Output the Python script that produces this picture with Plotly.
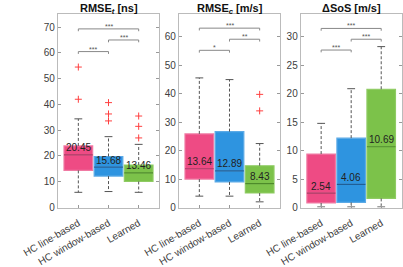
import plotly.graph_objects as go

methods = ["HC line-based", "HC window-based", "Learned"]
fill_colors = ["#EE4B84", "#2E94E0", "#7CC24A"]
edge_colors = ["#F07AA3", "#5CAAE6", "#8FCB63"]
median_colors = ["#A8345F", "#1F5E96", "#4D8A2A"]

titles = ["<b>RMSE<sub><i>t</i></sub> [ns]</b>", "<b>RMSE<sub><i>c</i></sub> [m/s]</b>", "<b>ΔSoS [m/s]</b>"]

# per panel: lists over methods
q1 = [[14.4, 12.2, 10.1], [10.0, 9.0, 5.1], [0.8, 0.9, 1.6]]
median = [[20.45, 15.68, 13.46], [13.64, 12.89, 8.43], [2.54, 4.06, 10.69]]
q3 = [[23.9, 19.8, 16.5], [25.9, 26.7, 14.7], [9.4, 12.2, 20.8]]
lower = [[5.9, 6.2, 5.9], [4.0, 4.0, 2.0], [0.1, 0.1, 0.1]]
upper = [[34.4, 27.5, 24.5], [45.6, 45.0, 22.5], [14.8, 20.9, 28.3]]
outliers = [
    [[54.5, 42.0], [40.7, 36.3, 33.6], [35.5, 31.5, 27.0]],
    [[], [], [39.8, 34.0]],
    [[], [], []],
]
median_labels = [["20.45", "15.68", "13.46"], ["13.64", "12.89", "8.43"], ["2.54", "4.06", "10.69"]]

# significance brackets: (i, j, height, label)
sig_pairs = [(1, 2), (2, 3), (1, 3)]
sig_heights = [[60.5, 65.0, 69.3], [55.3, 59.2, 63.1], [27.7, 29.6, 31.5]]
sig_labels = [["***", "***", "***"], ["*", "**", "***"], ["***", "***", "***"]]

y_ranges = [[0, 75], [0, 68], [0, 34]]
y_ticks = [list(range(0, 71, 10)), list(range(0, 61, 10)), list(range(0, 31, 5))]

x_domains = [[25 / 403, 136 / 403], [157.5 / 403, 268.5 / 403], [291 / 403, 401.5 / 403]]
y_domain = [(267 - 219) / 267, (267 - 15) / 267]

BOXW = 0.95
CAPW = 0.13

fig = go.Figure()
annotations = []

for p in range(3):
    xa = "x" if p == 0 else f"x{p+1}"
    ya = "y" if p == 0 else f"y{p+1}"
    drop = (y_ranges[p][1] - y_ranges[p][0]) * 0.012
    for m in range(3):
        pos = m + 1
        # whiskers (dashed)
        fig.add_trace(go.Scatter(x=[pos, pos, None, pos, pos],
                                 y=[q3[p][m], upper[p][m], None, q1[p][m], lower[p][m]],
                                 mode="lines", line=dict(color="#555555", width=1, dash="3px,2px"),
                                 xaxis=xa, yaxis=ya, showlegend=False, hoverinfo="skip"))
        # caps
        fig.add_trace(go.Scatter(x=[pos - CAPW, pos + CAPW, None, pos - CAPW, pos + CAPW],
                                 y=[upper[p][m], upper[p][m], None, lower[p][m], lower[p][m]],
                                 mode="lines", line=dict(color="#555555", width=1),
                                 xaxis=xa, yaxis=ya, showlegend=False, hoverinfo="skip"))
        # box
        fig.add_trace(go.Box(x=[pos], q1=[q1[p][m]], median=[median[p][m]], q3=[q3[p][m]],
                             lowerfence=[q1[p][m]], upperfence=[q3[p][m]],
                             width=BOXW, fillcolor=fill_colors[m],
                             line=dict(color=edge_colors[m], width=1.2),
                             xaxis=xa, yaxis=ya, showlegend=False, hoverinfo="skip",
                             boxpoints=False))
        # median line
        fig.add_trace(go.Scatter(x=[pos - BOXW / 2, pos + BOXW / 2],
                                 y=[median[p][m], median[p][m]],
                                 mode="lines", line=dict(color=median_colors[m], width=1.2),
                                 xaxis=xa, yaxis=ya, showlegend=False, hoverinfo="skip"))
        # outliers
        if outliers[p][m]:
            fig.add_trace(go.Scatter(x=[pos] * len(outliers[p][m]), y=outliers[p][m],
                                     mode="markers",
                                     marker=dict(symbol="cross-thin", size=5,
                                                 line=dict(color="#FF4040", width=1)),
                                     xaxis=xa, yaxis=ya, showlegend=False, hoverinfo="skip"))
        annotations.append(dict(x=pos, y=median[p][m], xref=xa, yref=ya,
                                text=median_labels[p][m], showarrow=False,
                                yanchor="middle", yshift=7,
                                font=dict(size=10, color="#222222",
                                          family="Liberation Sans, Arial, sans-serif")))
    # brackets
    for k, (i, j) in enumerate(sig_pairs):
        h = sig_heights[p][k]
        fig.add_trace(go.Scatter(x=[i, i, j, j], y=[h - drop, h, h, h - drop],
                                 mode="lines", line=dict(color="#888888", width=1),
                                 xaxis=xa, yaxis=ya, showlegend=False, hoverinfo="skip"))
        annotations.append(dict(x=(i + j) / 2, y=h, xref=xa, yref=ya,
                                text=sig_labels[p][k], showarrow=False,
                                yanchor="bottom", yshift=-3,
                                font=dict(size=7, color="#555555",
                                          family="Liberation Sans, Arial, sans-serif")))
    # title
    annotations.append(dict(x=(x_domains[p][0] + x_domains[p][1]) / 2, y=1.0,
                            xref="paper", yref="paper", text=titles[p], showarrow=False,
                            xanchor="center", yanchor="top",
                            font=dict(size=11, color="#111111",
                                      family="Liberation Sans, Arial, sans-serif")))

axis_font = dict(size=10, color="#404040", family="Liberation Sans, Arial, sans-serif")
layout = dict(
    width=403, height=267,
    margin=dict(l=0, r=0, t=0, b=0),
    paper_bgcolor="white", plot_bgcolor="white",
    annotations=annotations,
)
for p in range(3):
    xk = "xaxis" if p == 0 else f"xaxis{p+1}"
    yk = "yaxis" if p == 0 else f"yaxis{p+1}"
    ya = "y" if p == 0 else f"y{p+1}"
    xa = "x" if p == 0 else f"x{p+1}"
    layout[xk] = dict(domain=x_domains[p], anchor=ya, range=[0.32, 3.68],
                      tickvals=[1, 2, 3], ticktext=methods, tickangle=-30,
                      ticklabelstandoff=5,
                      showline=True, mirror=True, linecolor="#BBBBBB", linewidth=1,
                      ticks="inside", ticklen=3, tickcolor="#999999",
                      showgrid=False, zeroline=False, tickfont=axis_font)
    layout[yk] = dict(domain=y_domain, anchor=xa, range=y_ranges[p],
                      tickvals=y_ticks[p],
                      showline=True, mirror="ticks", linecolor="#BBBBBB", linewidth=1,
                      ticks="inside", ticklen=3, tickcolor="#999999",
                      showgrid=False, zeroline=False, tickfont=axis_font)
fig.update_layout(**layout)

fig.write_html("out.html", config={"displayModeBar": False},
               post_script="document.body.style.margin='0';document.body.style.overflow='hidden';")
